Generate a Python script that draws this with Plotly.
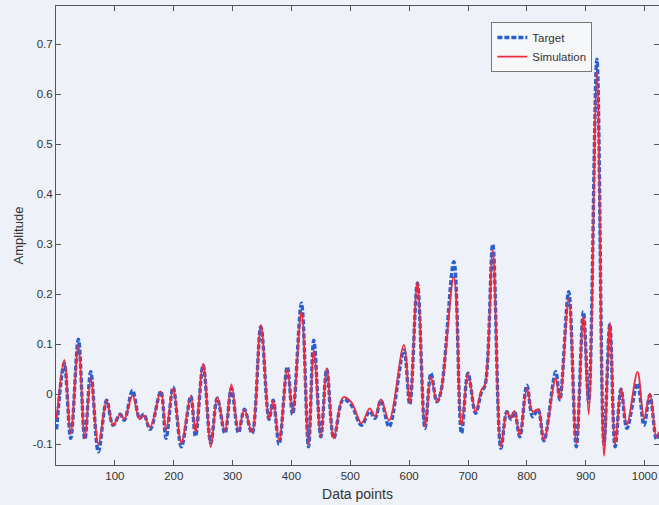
import plotly.graph_objects as go

# Data (extrema of the signals)
data_points = [1, 14, 25, 38, 49, 59, 72, 86, 97, 109, 116, 130, 142, 149, 160, 178, 187, 199,
               213, 229, 237, 250, 263, 274, 287, 298, 310, 320, 333, 348, 362, 369, 379, 393,
               402, 417, 429, 438, 450, 460, 472, 488, 502, 519, 533, 542, 552, 566, 591, 601,
               614, 627, 637, 647, 654, 676, 689, 700, 713, 723, 729, 742, 756, 766, 773, 779,
               788, 800, 810, 819, 829, 849, 856, 871, 884, 896, 905, 919, 931, 941, 950, 960,
               970, 988, 999, 1009, 1020, 1024]

target = [-0.07, 0.062, -0.088, 0.11, -0.09, 0.045, -0.115, -0.012, -0.062, -0.04, -0.052, 0.008,
          -0.048, -0.04, -0.07, 0.006, -0.088, 0.014, -0.105, -0.004, -0.084, 0.058, -0.097,
          -0.008, -0.078, 0.012, -0.077, -0.03, -0.078, 0.135, -0.05, -0.012, -0.1, 0.055,
          -0.04, 0.182, -0.105, 0.108, -0.085, 0.05, -0.088, -0.01, -0.022, -0.062, -0.034,
          -0.048, -0.012, -0.065, 0.088, -0.02, 0.222, -0.068, 0.042, -0.015, 0.005, 0.265,
          -0.078, 0.042, -0.038, 0.005, 0.018, 0.3, -0.108, -0.035, -0.05, -0.035, -0.085,
          0.018, -0.045, -0.03, -0.093, 0.045, -0.011, 0.205, -0.105, 0.165, -0.015, 0.67,
          -0.1, 0.14, -0.105, 0.01, -0.068, 0.022, -0.062, -0.002, -0.09, -0.08]

simulation = [-0.05, 0.069, -0.078, 0.097, -0.088, 0.032, -0.1, -0.012, -0.062, -0.04, -0.05,
              -0.002, -0.05, -0.042, -0.066, 0.006, -0.072, 0.012, -0.097, -0.004, -0.075, 0.061,
              -0.105, -0.006, -0.073, 0.02, -0.073, -0.03, -0.075, 0.139, -0.05, -0.012, -0.094,
              0.05, -0.035, 0.165, -0.1, 0.087, -0.085, 0.052, -0.088, -0.006, -0.016, -0.058,
              -0.028, -0.044, -0.01, -0.052, 0.099, -0.018, 0.225, -0.065, 0.035, -0.015, 0.005,
              0.235, -0.062, 0.042, -0.035, 0.009, 0.02, 0.287, -0.105, -0.035, -0.048, -0.033,
              -0.082, 0.012, -0.035, -0.03, -0.092, 0.032, -0.01, 0.192, -0.098, 0.156, -0.04,
              0.645, -0.123, 0.143, -0.1, 0.012, -0.06, 0.045, -0.05, 0.002, -0.086, -0.075]

x_ticks = [100, 200, 300, 400, 500, 600, 700, 800, 900, 1000]
y_ticks = [-0.1, 0, 0.1, 0.2, 0.3, 0.4, 0.5, 0.6, 0.7]
y_tick_labels = ["-0.1", "0", "0.1", "0.2", "0.3", "0.4", "0.5", "0.6", "0.7"]

bg = "#eef1f7"
axis_col = "#555555"
font = "Liberation Sans, Arial, sans-serif"

fig = go.Figure()
fig.add_trace(go.Scatter(
    x=data_points, y=target, name="Target", mode="lines",
    line=dict(color="#2a5fcf", width=3.4, dash="5px,2px", shape="spline", smoothing=1.0),
))
fig.add_trace(go.Scatter(
    x=data_points, y=simulation, name="Simulation", mode="lines",
    line=dict(color="#ec2a40", width=1.8, shape="spline", smoothing=1.0),
))

fig.update_layout(
    width=659, height=505,
    margin=dict(l=56, r=0, t=6, b=40),
    paper_bgcolor=bg, plot_bgcolor=bg,
    font=dict(family=font, size=11, color="#333333"),
    showlegend=True,
    legend=dict(
        x=0.722, y=0.965, xanchor="left", yanchor="top",
        bgcolor="#f6f7f9", bordercolor="#777777", borderwidth=1,
        font=dict(family=font, size=11.5, color="#333333"),
        tracegroupgap=0, itemwidth=30,
    ),
    xaxis=dict(
        range=[0, 1024.5], tickvals=x_ticks, ticks="inside", ticklen=5,
        tickcolor=axis_col, showgrid=False, zeroline=False, automargin=False,
        showline=True, linecolor=axis_col, linewidth=1, mirror="ticks",
        title=dict(text="Data points", font=dict(family=font, size=14, color="#333333"), standoff=8),
        tickfont=dict(size=11.5),
    ),
    yaxis=dict(
        range=[-0.1414, 0.7766], tickvals=y_ticks, ticktext=y_tick_labels,
        ticks="inside", ticklen=5, tickcolor=axis_col, showgrid=False, zeroline=False,
        automargin=False,
        showline=True, linecolor=axis_col, linewidth=1, mirror="ticks",
        title=dict(text="Amplitude", font=dict(family=font, size=13, color="#333333"), standoff=6),
        tickfont=dict(size=11.5),
    ),
)

fig.write_html(
    "out.html",
    config={"displayModeBar": False},
    post_script="document.body.style.margin='0';document.body.style.background='%s';" % bg,
)
